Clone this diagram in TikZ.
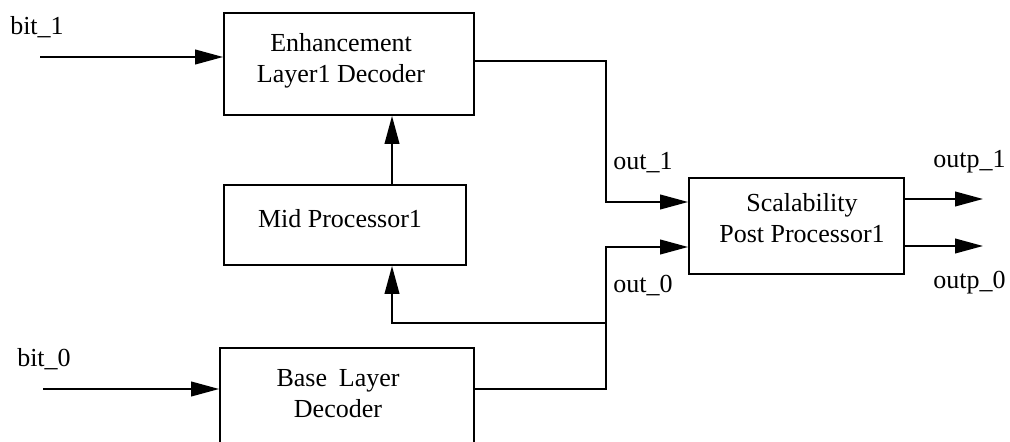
\documentclass[tikz,border=0pt]{standalone}
\usepackage{fontspec}
\setmainfont{Liberation Serif}
\usetikzlibrary{arrows.meta}
\begin{document}
\begin{tikzpicture}[x=0.75pt,y=-0.75pt,
  box/.style={draw, line width=1.4pt, rectangle, inner sep=0pt},
  txt/.style={inner sep=0pt, anchor=base, font=\fontsize{19.5pt}{23.25pt}\selectfont},
  lbl/.style={inner sep=0pt, anchor=base west, font=\fontsize{19.5pt}{23.25pt}\selectfont},
  wire/.style={line width=1.4pt},
  arr/.style={wire, -{Triangle[length=21pt,width=11pt]}}]
\useasboundingbox (0,0) rectangle (1010,442);
% boxes
\node[box, minimum width=187.5pt, minimum height=76.5pt] (enh) at (349,64) {};
\node[box, minimum width=181.5pt, minimum height=60pt] (mid) at (345,225) {};
\node[box, minimum width=161.25pt, minimum height=72pt] (scal) at (796.5,226) {};
\node[box, minimum width=190.5pt, minimum height=84pt] (base) at (347,404) {};
% box texts
\node[txt] (enht) at (341,83) {\begin{tabular}[b]{@{}c@{}}Enhancement\\Layer1 Decoder\end{tabular}};
\node[txt] (midt) at (340,227) {Mid Processor1};
\node[txt] (scalt) at (802,242) {\begin{tabular}[b]{@{}c@{}}Scalability\\Post Processor1\end{tabular}};
\node[txt] (baset) at (338,417) {\begin{tabular}[b]{@{}c@{}}Base\hspace{4pt} Layer\\Decoder\end{tabular}};
% signal labels
\node[lbl] (lb1) at (10,35) {bit\_1};
\node[lbl] (lb0) at (17,366) {bit\_0};
\node[lbl] (lo1) at (613,170) {out\_1};
\node[lbl] (lo0) at (613,292) {out\_0};
\node[lbl] (lp1) at (933,168) {outp\_1};
\node[lbl] (lp0) at (933,288) {outp\_0};
% coordinates
\coordinate (b1) at (40,57);
\coordinate (b0) at (43,389);
\coordinate (e1) at (606,61);
\coordinate (e0) at (606,389);
\coordinate (br) at (606,323);
\coordinate (y1) at (0,202);
\coordinate (y0) at (0,247);
\coordinate (mx) at (392,0);
\coordinate (o1) at (983,199);
\coordinate (o0) at (983,246);
% connectors
\draw[arr] (b1) -- (b1 -| enh.west);
\draw[arr] (b0) -- (b0 -| base.west);
\draw[arr] (mid.north -| mx) -- (enh.south -| mx);
\draw[arr] (enh.east |- e1) -- (e1) |- (scal.west |- y1);
\draw[arr] (base.east |- e0) -- (e0) |- (scal.west |- y0);
\draw[arr] (br) -| (mid.south -| mx);
\draw[arr] (scal.east |- o1) -- (o1);
\draw[arr] (scal.east |- o0) -- (o0);
\end{tikzpicture}
\end{document}
